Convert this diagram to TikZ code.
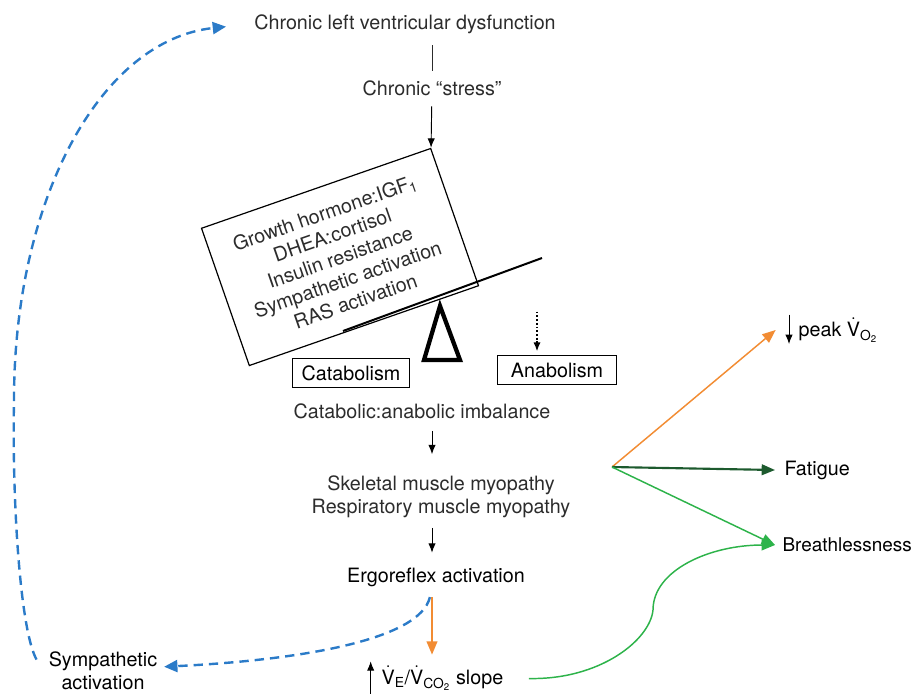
\documentclass[tikz,border=0pt]{standalone}
\usepackage{fontspec}
\setmainfont{TeX Gyre Heros}
\usepackage{tikz}
\usetikzlibrary{arrows.meta,calc}
\definecolor{txt}{HTML}{2C2C2C}
\definecolor{sblue}{HTML}{2B7BC8}
\definecolor{sorange}{HTML}{F28C33}
\definecolor{sgreen}{HTML}{2DB34A}
\definecolor{dgreen}{HTML}{1D5A2E}
\newcommand{\Vdot}{$\dot{\mbox{V}}$}
\tikzstyle{arrow}    = [-{Latex[length=7pt,width=5.5pt]},line width=0.7pt]
\tikzstyle{lab}      = [text=txt,font=\fontsize{14.8}{17.5}\selectfont,inner sep=1pt]
\tikzstyle{blk}      = [lab,text=black]
\tikzstyle{frame}    = [blk,draw=black,line width=1.1pt,minimum height=22pt]
\tikzstyle{feedback} = [sblue,line width=1.8pt,dash pattern=on 7pt off 4.5pt,-{Triangle[length=10pt,width=9pt]}]
\tikzstyle{outarrow} = [line width=1.1pt,-{Triangle[length=10pt,width=8pt]}]

\begin{document}
\begin{tikzpicture}[x=0.75pt,y=-0.75pt]
           \useasboundingbox (0,0) rectangle (912,693);
           \node[lab](a)at(405,24){Chronic left ventricular dysfunction};
           \node[lab](b)at(432,88){Chronic “stress”};
           \node[lab,draw=black,line width=0.9pt,rotate=19.2,align=center,
                 minimum width=182pt,minimum height=109pt](c)at(340,257)
                {Growth hormone:IGF\textsubscript{1}\\DHEA:cortisol\\Insulin resistance\\Sympathetic activation\\RAS activation};
           \node[frame,minimum width=88pt](d)at(351,373){Catabolism};
           \node[frame,minimum width=89pt](e)at(557,370){Anabolism};
           \node[lab](f)at(422,411){Catabolic:anabolic imbalance};
           \node[lab,align=center](g)at(441,497){Skeletal muscle myopathy\\Respiratory muscle myopathy};
           \node[blk](h)at(436,577){Ergoreflex activation};
           \node[blk,align=center](i)at(103,671){Sympathetic\\activation};
           \node[blk,anchor=west](j)at(380,678){\Vdot\textsubscript{E}/\Vdot\textsubscript{CO\textsubscript{2}} slope};
           \node[blk,anchor=west](k)at(797,330){peak \Vdot\textsubscript{O\textsubscript{2}}};
           \node[blk,anchor=west](l)at(783,470){Fatigue};
           \node[blk,anchor=west,font=\fontsize{14.2}{17}\selectfont](m)at(781,545){Breathlessness};
           \coordinate(n)at(612,467);
           % balance
           \draw[line width=1.5pt](343,331)--(542,258);
           \draw[line width=3.2pt,line join=miter](440,306)--(460,360)--(424,360)--cycle;
           % main chain
           \draw[txt,line width=0.7pt,shorten <=6pt,shorten >=7.5pt](b.north)--(b.north |- a.south);
           \draw[arrow,shorten <=7pt](b)--(c.north east);
           \draw[arrow,line width=1.5pt,dash pattern=on 1.4pt off 1.4pt]($(e.north)+(-20,-43)$)--($(e.north)+(-20,-3)$);
           \draw[arrow,shorten <=8pt,shorten >=15pt](f.south -| b)--(g.north -| b);
           \draw[arrow,shorten <=6pt,shorten >=10pt](g.south -| b)--(h.north -| b);
           \draw[outarrow,sorange,line width=1.5pt,shorten <=7pt,shorten >=7pt](h.south -| b)--(j.north -| b);
           \draw[feedback,shorten <=7pt,shorten >=4pt](h.south -| b)..controls(420,640)and(300,660)..([yshift=3pt]i.east);
           \draw[feedback]([shift={(-8pt,-7pt)}]i.north west)..controls(20,630)and(12,500)..(14,400)
                ..controls(14,200)and(100,40)..([shift={(-20pt,-2pt)}]a.west);
           % small arrows in labels
           \draw[arrow]([shift={(-7pt,-9pt)}]j.south west)--([shift={(-7pt,2pt)}]j.north west);
           \draw[arrow]([shift={(-6pt,1pt)}]k.north west)--([xshift=-6pt]k.south west);
           % outcomes
           \draw[outarrow,sorange](n)--([xshift=-16pt]k.west);
           \draw[outarrow,dgreen,line width=1.6pt](n)--([xshift=-6pt]l.west);
           \draw[outarrow,sgreen](n)--([xshift=-4.5pt]m.west);
           \draw[outarrow,sgreen,shorten <=18pt](j.east)..controls(600,680)and(650,640)..(653,610)
                ..controls(653,570)and(710,545)..([xshift=-4.5pt]m.west);
       \end{tikzpicture}
\end{document}
